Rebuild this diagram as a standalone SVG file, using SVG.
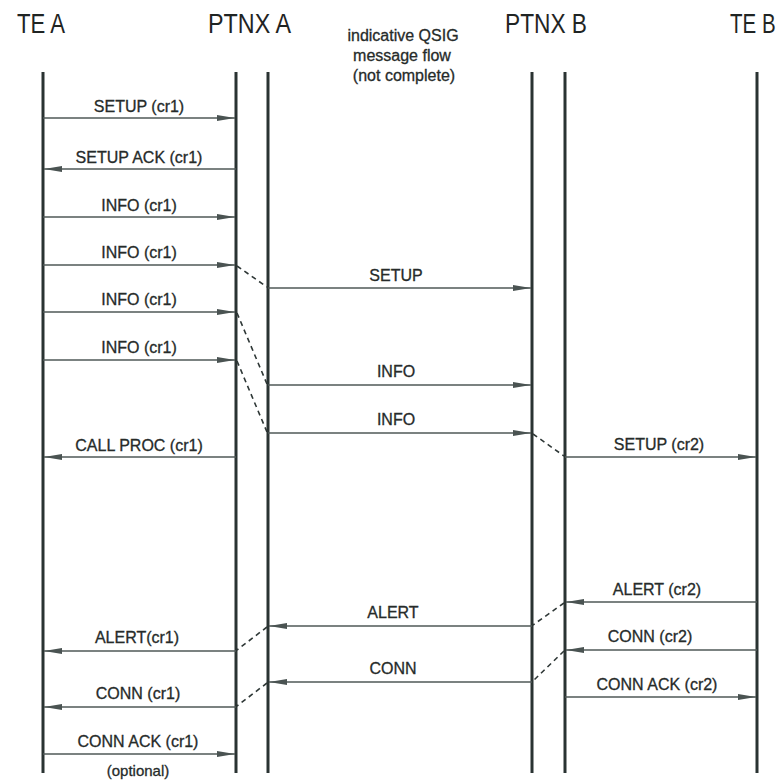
<svg xmlns="http://www.w3.org/2000/svg" width="783" height="783" viewBox="0 0 783 783">
<defs>
<marker id="ah" markerWidth="18" markerHeight="8" refX="18" refY="4" orient="auto" markerUnits="userSpaceOnUse">
<path d="M0,1 L18,4 L0,7 Z" fill="#4a5352"/>
</marker>
<style>
.bg{fill:#ffffff}
.life{stroke:#2a3332;stroke-width:3;fill:none}
.msg{stroke:#4f5857;stroke-width:1.6;fill:none;marker-end:url(#ah)}
.dash{stroke:#2e3736;stroke-width:1.6;fill:none;stroke-dasharray:5 4}
.hdr{font-family:"Liberation Sans",Arial,sans-serif;font-size:27px;fill:#1f2423}
.note{font-family:"Liberation Sans",Arial,sans-serif;font-size:16px;fill:#262b2a;text-anchor:middle;stroke:#262b2a;stroke-width:0.3}
.lbl{font-family:"Liberation Sans",Arial,sans-serif;font-size:16px;fill:#262b2a;text-anchor:middle;stroke:#262b2a;stroke-width:0.3}
</style>
</defs>
<rect class="bg" x="0" y="0" width="783" height="783"/>

<g id="header">
<text class="hdr" x="17" y="33" textLength="48" lengthAdjust="spacingAndGlyphs">TE A</text>
<text class="hdr" x="208" y="33" textLength="83" lengthAdjust="spacingAndGlyphs">PTNX A</text>
<text class="hdr" x="505" y="33" textLength="82" lengthAdjust="spacingAndGlyphs">PTNX B</text>
<text class="hdr" transform="translate(730,33) scale(0.76,1)" x="0" y="0">TE B</text>
<text class="note" x="403" y="41">indicative QSIG</text>
<text class="note" x="402" y="61">message flow</text>
<text class="note" x="404" y="81">(not complete)</text>
</g>

<g id="te-a"><line class="life" x1="43" y1="72" x2="43" y2="773"/></g>
<g id="ptnx-a">
<line class="life" x1="236" y1="72" x2="236" y2="773"/>
<line class="life" x1="268" y1="72" x2="268" y2="773"/>
</g>
<g id="ptnx-b">
<line class="life" x1="532" y1="72" x2="532" y2="773"/>
<line class="life" x1="565" y1="72" x2="565" y2="773"/>
</g>
<g id="te-b"><line class="life" x1="757" y1="72" x2="757" y2="773"/></g>

<g id="connectors">
<line class="msg" x1="43" y1="118" x2="235" y2="118"/>
<line class="msg" x1="236" y1="169" x2="44" y2="169"/>
<line class="msg" x1="43" y1="217" x2="235" y2="217"/>
<line class="msg" x1="43" y1="265" x2="235" y2="265"/>
<line class="msg" x1="43" y1="312" x2="235" y2="312"/>
<line class="msg" x1="43" y1="360" x2="235" y2="360"/>
<line class="msg" x1="268" y1="288" x2="531" y2="288"/>
<line class="msg" x1="268" y1="385" x2="531" y2="385"/>
<line class="msg" x1="268" y1="433" x2="531" y2="433"/>
<line class="msg" x1="236" y1="457" x2="44" y2="457"/>
<line class="msg" x1="565" y1="457" x2="756" y2="457"/>
<line class="msg" x1="757" y1="602" x2="566" y2="602"/>
<line class="msg" x1="532" y1="626" x2="269" y2="626"/>
<line class="msg" x1="236" y1="651" x2="44" y2="651"/>
<line class="msg" x1="757" y1="650" x2="566" y2="650"/>
<line class="msg" x1="532" y1="682" x2="269" y2="682"/>
<line class="msg" x1="565" y1="697" x2="756" y2="697"/>
<line class="msg" x1="236" y1="707" x2="44" y2="707"/>
<line class="msg" x1="43" y1="754" x2="235" y2="754"/>

<line class="dash" x1="237" y1="266" x2="267" y2="287"/>
<line class="dash" x1="237" y1="313" x2="267" y2="384"/>
<line class="dash" x1="237" y1="361" x2="267" y2="432"/>
<line class="dash" x1="533" y1="434" x2="564" y2="456"/>
<line class="dash" x1="564" y1="603" x2="533" y2="625"/>
<line class="dash" x1="267" y1="627" x2="237" y2="650"/>
<line class="dash" x1="564" y1="651" x2="533" y2="681"/>
<line class="dash" x1="267" y1="683" x2="237" y2="706"/>

<text class="lbl" x="139" y="112">SETUP (cr1)</text>
<text class="lbl" x="139" y="163">SETUP ACK (cr1)</text>
<text class="lbl" x="139" y="211">INFO (cr1)</text>
<text class="lbl" x="139" y="258">INFO (cr1)</text>
<text class="lbl" x="139" y="305">INFO (cr1)</text>
<text class="lbl" x="139" y="353">INFO (cr1)</text>
<text class="lbl" x="396" y="281">SETUP</text>
<text class="lbl" x="396" y="377">INFO</text>
<text class="lbl" x="396" y="425">INFO</text>
<text class="lbl" x="139" y="451">CALL PROC (cr1)</text>
<text class="lbl" x="659" y="450">SETUP (cr2)</text>
<text class="lbl" x="657" y="595">ALERT (cr2)</text>
<text class="lbl" x="393" y="618">ALERT</text>
<text class="lbl" x="137" y="643">ALERT(cr1)</text>
<text class="lbl" x="650" y="642">CONN (cr2)</text>
<text class="lbl" x="393" y="674">CONN</text>
<text class="lbl" x="657" y="690">CONN ACK (cr2)</text>
<text class="lbl" x="138" y="699">CONN (cr1)</text>
<text class="lbl" x="138" y="747">CONN ACK (cr1)</text>
<text class="lbl" x="138" y="776" style="font-size:15px">(optional)</text>
</g>
</svg>
